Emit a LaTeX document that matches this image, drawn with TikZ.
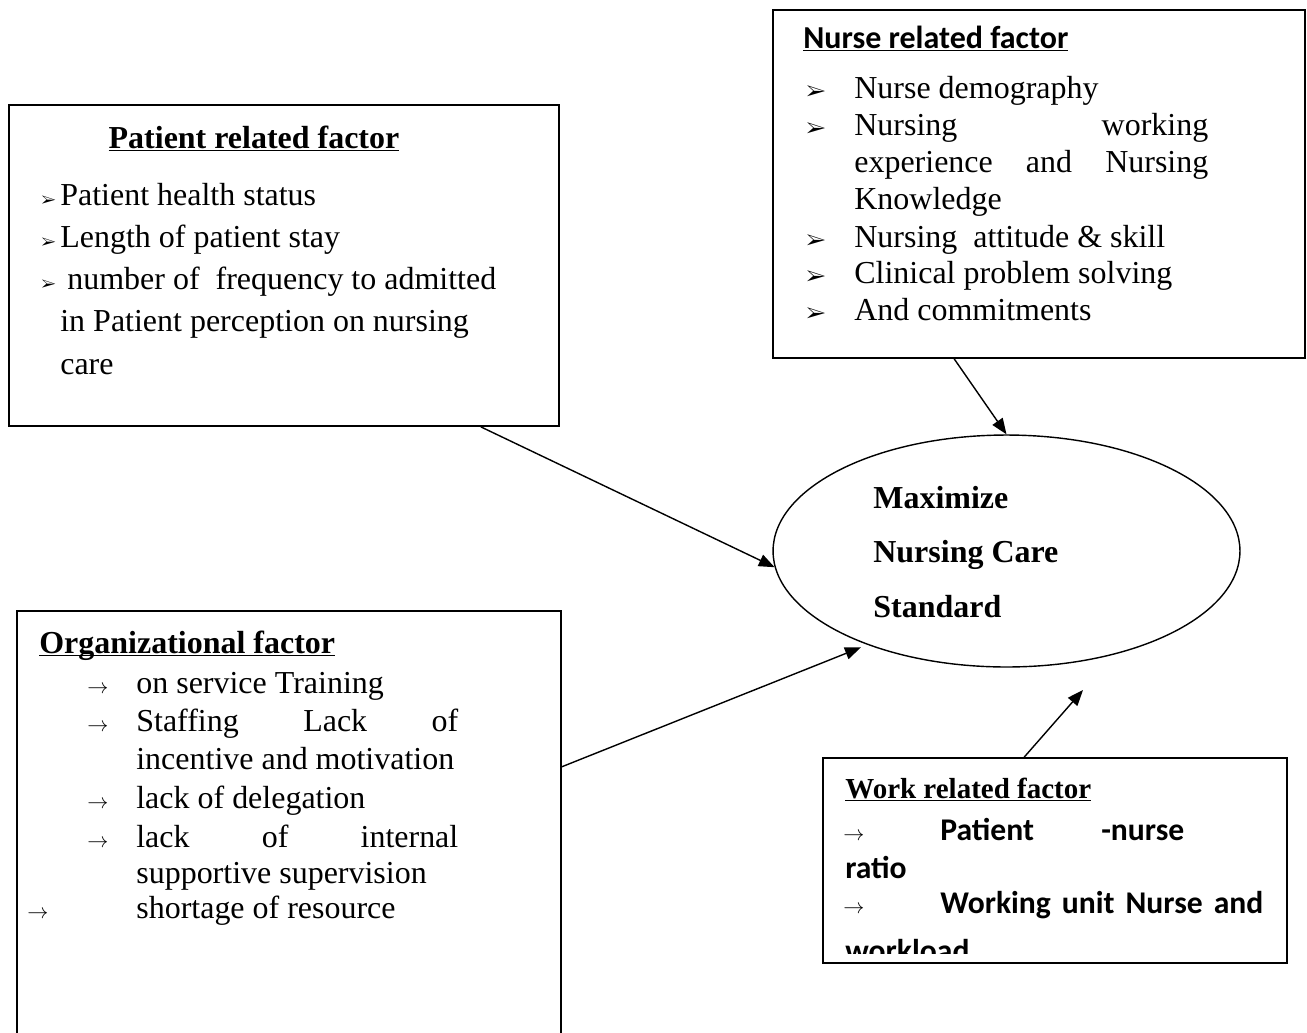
\documentclass[tikz,border=0pt]{standalone}
\usepackage{fontspec}
\usepackage{pifont}
\setmainfont{Liberation Serif}
\newfontfamily\calib{Carlito}
\usetikzlibrary{arrows.meta,shapes.geometric,calc}

\newcommand{\fsz}{\fontsize{18.2}{22}\selectfont}
\newcommand{\ulbox}[1]{\underline{\smash{#1}}}
\newcommand{\bulsmall}{{\fontsize{9}{9}\selectfont\ding{226}}}
\newcommand{\bulbig}{{\fontsize{12}{12}\selectfont\ding{226}}}
\newcommand{\rarr}{{\fontsize{11.5}{11.5}\selectfont$\rightarrow$}}

\begin{document}
\begin{tikzpicture}[x=0.02cm, y=-0.02cm,
        box/.style={draw, line width=1pt, inner sep=0pt},
        goalshape/.style={draw, ellipse, line width=0.8pt, inner sep=0pt,
                          minimum width=9.34cm, minimum height=4.64cm},
        ln/.style={anchor=base west, inner sep=0pt, font=\fsz},
        ttl/.style={ln, font=\fsz\bfseries},
        wrk/.style={ln, font=\fontsize{18}{21}\selectfont\calib\bfseries},
        arr/.style={-{Triangle[length=9pt,width=7pt]}, line width=0.8pt},
    ]
    \useasboundingbox (0,0) rectangle (1307,1032);

    % Boxes
    \node[box, minimum width=11cm, minimum height=6.42cm] (pat) at (284,265.5) {};
    \node[box, minimum width=10.64cm, minimum height=6.96cm] (nurse) at (1039,184) {};
    \node[box, draw=none, minimum width=10.84cm, minimum height=8.4cm] (org) at (289,822) {};
    \draw[line width=1pt] (org.south west) -- (org.north west) -- (org.north east) -- (org.south east);
    \node[box, minimum width=9.28cm, minimum height=4.1cm] (work) at (1055,860.5) {};
    \node[goalshape] (goal) at (1006.5,551) {};

    % Patient related factor
    \node[ttl, anchor=base] (pat-t) at (254,148) {\ulbox{Patient related factor}};
    \node[ln] (pat-b1) at (41,205) {\bulsmall};
    \node[ln] (pat-b2) at (41,247) {\bulsmall};
    \node[ln] (pat-b3) at (41,289) {\bulsmall};
    \node[ln] (pat-1) at (60,205) {Patient health status};
    \node[ln] (pat-2) at (60,247) {Length of patient stay};
    \node[ln] (pat-3) at (67,289) {number of\ \ frequency to admitted};
    \node[ln] (pat-4) at (60,331) {in Patient perception on nursing};
    \node[ln] (pat-5) at (60,374) {care};

    % Nurse related factor
    \node[ln, font=\fsz\calib\bfseries] (nurse-t) at (803,48) {\ulbox{Nurse related factor}};
    \node[ln] (nurse-b1) at (806,98) {\bulbig};
    \node[ln] (nurse-b2) at (806,135) {\bulbig};
    \node[ln] (nurse-b3) at (806,247) {\bulbig};
    \node[ln] (nurse-b4) at (806,283) {\bulbig};
    \node[ln] (nurse-b5) at (806,320) {\bulbig};
    \node[ln] (nurse-1) at (854,98) {Nurse demography};
    \node[ln] (nurse-2) at (854,135) {\makebox[7.08cm][s]{Nursing working}};
    \node[ln] (nurse-3) at (854,172) {\makebox[7.08cm][s]{experience and Nursing}};
    \node[ln] (nurse-4) at (854,209) {Knowledge};
    \node[ln] (nurse-5) at (854,247) {Nursing\ \ attitude \& skill};
    \node[ln] (nurse-6) at (854,283) {Clinical problem solving};
    \node[ln] (nurse-7) at (854,320) {And commitments};

    % Organizational factor
    \node[ttl] (org-t) at (39,653) {\ulbox{Organizational factor}};
    \node[ln] (org-a1) at (87,693) {\rarr};
    \node[ln] (org-a2) at (87,731) {\rarr};
    \node[ln] (org-a3) at (87,808) {\rarr};
    \node[ln] (org-a4) at (87,847) {\rarr};
    \node[ln] (org-a5) at (27,918) {\rarr};
    \node[ln] (org-1) at (136,693) {on service Training};
    \node[ln] (org-2) at (136,731) {\makebox[6.44cm][s]{Staffing Lack of}};
    \node[ln] (org-3) at (136,769) {incentive and motivation};
    \node[ln] (org-4) at (136,808) {lack of delegation};
    \node[ln] (org-5) at (136,847) {\makebox[6.44cm][s]{lack of internal}};
    \node[ln] (org-6) at (136,883) {supportive supervision};
    \node[ln] (org-7) at (136,918) {shortage of resource};

    % Work related factor
    \node[ln, font=\fontsize{16.5}{20}\selectfont\bfseries] (work-t) at (845,798) {\ulbox{Work related factor}};
    \node[ln] (work-a1) at (843,840) {\rarr};
    \node[ln] (work-a2) at (843,913) {\rarr};
    \node[wrk] (work-1) at (940,840) {\makebox[4.88cm][s]{Patient -nurse}};
    \node[wrk] (work-2) at (845,878) {ratio};
    \node[wrk] (work-3) at (940,913) {\makebox[6.46cm][s]{Working unit Nurse and}};
    \begin{scope}
        \clip (work.north west) rectangle ($(work.south east)+(0,-10)$);
        \node[wrk] (work-4) at (845,961) {workload};
    \end{scope}

    % Goal
    \node[ttl] (goal-1) at (873,508) {Maximize};
    \node[ttl] (goal-2) at (873,562) {Nursing Care};
    \node[ttl] (goal-3) at (873,617) {Standard};

    % Arrows into the goal
    \coordinate (worktip) at (1083,690);
    \draw[arr] ($(pat.south east)+(-79,0)$) -- (goal.184);
    \draw[arr] ($(nurse.south west)+(182,0)$) -- (goal.north);
    \draw[arr, shorten >=4pt] ($(org.north east)+(0,156)$) -- (goal.214);
    \draw[arr] ($(work.north west)+(202,0)$) -- (worktip);
\end{tikzpicture}
\end{document}
